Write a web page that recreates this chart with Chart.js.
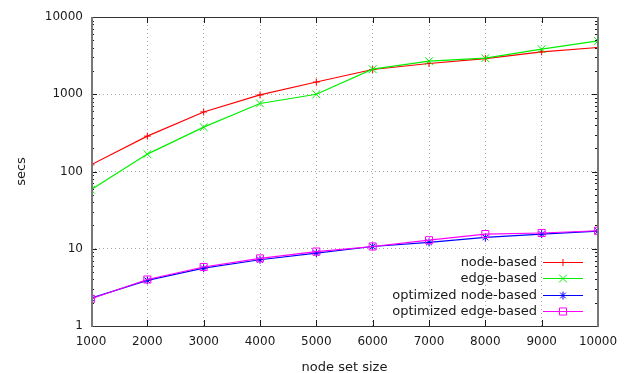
<!DOCTYPE html>
<html>
<head>
<meta charset="utf-8">
<script src="https://cdn.jsdelivr.net/npm/chart.js@4/dist/chart.umd.min.js"></script>
<style>
  html, body { margin: 0; padding: 0; background: #fff; }
  canvas { display: block; }
</style>
</head>
<body>
<canvas id="c" width="638" height="373"></canvas>
<script>
// Run times (secs) per node set size, log scale.
const sizes = [1000, 2000, 3000, 4000, 5000, 6000, 7000, 8000, 9000, 10000];
const nodeBased = [122, 287, 590, 980, 1440, 2090, 2500, 2900, 3540, 4030];
const edgeBased = [58, 168, 375, 760, 1000, 2110, 2680, 2930, 3830, 4900];
const optNodeBased = [2.3, 3.9, 5.6, 7.2, 8.8, 10.7, 12.1, 14.0, 15.5, 16.9];
const optEdgeBased = [2.25, 4.0, 5.8, 7.5, 9.2, 10.7, 12.9, 15.5, 16.0, 17.1];
const yTicks = [1, 10, 100, 1000, 10000];

const TICK_FONT = { family: "DejaVu Sans", size: 12 };
const FONT = { family: "DejaVu Sans", size: 13 };
const INK = "#1a1a1a";

const series = [
  { label: "node-based", data: nodeBased, color: "#ff0000", style: "cross", r: 3.5 },
  { label: "edge-based", data: edgeBased, color: "#00f000", style: "crossRot", r: 5.5 },
  { label: "optimized node-based", data: optNodeBased, color: "#0000ff", style: "star", r: 4 },
  { label: "optimized edge-based", data: optEdgeBased, color: "#ff00ff", style: "rect", r: 5 },
];

// gnuplot-like frame: border, inward major/minor ticks on all sides, key
const frame = {
  id: "frame",
  afterDraw(chart) {
    const { ctx, chartArea: a, scales } = chart;
    const x = scales.x, y = scales.y;
    ctx.save();
    ctx.strokeStyle = INK;
    ctx.lineWidth = 1;
    ctx.beginPath();
    yTicks.forEach((v) => {
      const py = Math.round(y.getPixelForValue(v)) + 0.5;
      ctx.moveTo(a.left, py); ctx.lineTo(a.left + 6, py);
      ctx.moveTo(a.right, py); ctx.lineTo(a.right - 6, py);
      if (v < 10000) {
        for (let m = 2; m <= 9; m++) {
          const my = Math.round(y.getPixelForValue(v * m)) + 0.5;
          ctx.moveTo(a.left, my); ctx.lineTo(a.left + 3, my);
          ctx.moveTo(a.right, my); ctx.lineTo(a.right - 3, my);
        }
      }
    });
    sizes.forEach((v) => {
      const px = Math.round(x.getPixelForValue(v)) + 0.5;
      ctx.moveTo(px, a.top); ctx.lineTo(px, a.top + 6);
      ctx.moveTo(px, a.bottom); ctx.lineTo(px, a.bottom - 6);
    });
    ctx.stroke();

    // border: top/bottom crisp, sides a touch heavier
    const L = Math.round(a.left), R = Math.round(a.right);
    const T = Math.round(a.top), B = Math.round(a.bottom);
    ctx.strokeStyle = "#333";
    ctx.beginPath();
    ctx.moveTo(L, T + 0.5); ctx.lineTo(R, T + 0.5);
    ctx.moveTo(L, B + 0.5); ctx.lineTo(R, B + 0.5);
    ctx.stroke();
    ctx.strokeStyle = "#777";
    ctx.lineWidth = 2;
    ctx.beginPath();
    ctx.moveTo(L + 1, T); ctx.lineTo(L + 1, B + 1);
    ctx.moveTo(R, T); ctx.lineTo(R, B + 1);
    ctx.stroke();

    // key in the lower right corner
    ctx.font = `${FONT.size}px "${FONT.family}"`;
    ctx.textAlign = "right";
    ctx.textBaseline = "middle";
    ctx.lineWidth = 1;
    chart.data.datasets.forEach((ds, i) => {
      const ry = Math.round(262 + i * 16.4) + 0.5;
      ctx.fillStyle = INK;
      ctx.fillText(ds.label, a.right - 61, ry);
      ctx.strokeStyle = ds.borderColor;
      ctx.beginPath();
      ctx.moveTo(a.right - 55, ry);
      ctx.lineTo(a.right - 15, ry);
      ctx.stroke();
      ctx.fillStyle = "rgba(0,0,0,0)";
      Chart.helpers.drawPoint(ctx, {
        pointStyle: ds.pointStyle, radius: ds.pointRadius, rotation: 0, borderWidth: 1,
      }, a.right - 35, ry);
    });
    ctx.restore();
  },
};

new Chart(document.getElementById("c"), {
  type: "line",
  data: {
    labels: sizes,
    datasets: series.map((s, i) => ({
      label: s.label,
      data: sizes.map((x, j) => ({ x, y: s.data[j] })),
      borderColor: s.color,
      backgroundColor: "transparent",
      borderWidth: 1.2,
      pointStyle: s.style,
      pointRadius: s.r,
      pointBorderColor: s.color,
      pointBackgroundColor: "transparent",
      pointBorderWidth: 1,
      tension: 0,
      order: 4 - i,
    })),
  },
  options: {
    responsive: false,
    animation: false,
    devicePixelRatio: 1,
    layout: { padding: { top: 17, right: 40, left: 0, bottom: 0 } },
    plugins: { legend: { display: false }, tooltip: { enabled: false } },
    scales: {
      x: {
        type: "linear",
        min: 1000,
        max: 10000,
        afterFit: (s) => { s.height = 47; },
        ticks: { stepSize: 1000, autoSkip: false, maxRotation: 0, padding: 9, color: INK, font: TICK_FONT, callback: (v) => String(v) },
        grid: { color: "#a8a8a8", drawTicks: false },
        border: { display: false, dash: [1, 3] },
        title: { display: true, text: "node set size", color: INK, font: FONT, padding: { top: 0, bottom: -2 } },
      },
      y: {
        type: "logarithmic",
        min: 1,
        max: 10000,
        afterFit: (s) => { s.width = 91; },
        afterBuildTicks: (s) => { s.ticks = yTicks.map((value) => ({ value })); },
        ticks: { padding: 8, color: INK, font: TICK_FONT, callback: (v) => String(v) },
        grid: { color: "#a8a8a8", drawTicks: false },
        border: { display: false, dash: [1, 3] },
        title: { display: true, text: "secs", color: INK, font: FONT, padding: { top: 14, bottom: 0 } },
      },
    },
  },
  plugins: [frame],
});
</script>
</body>
</html>
